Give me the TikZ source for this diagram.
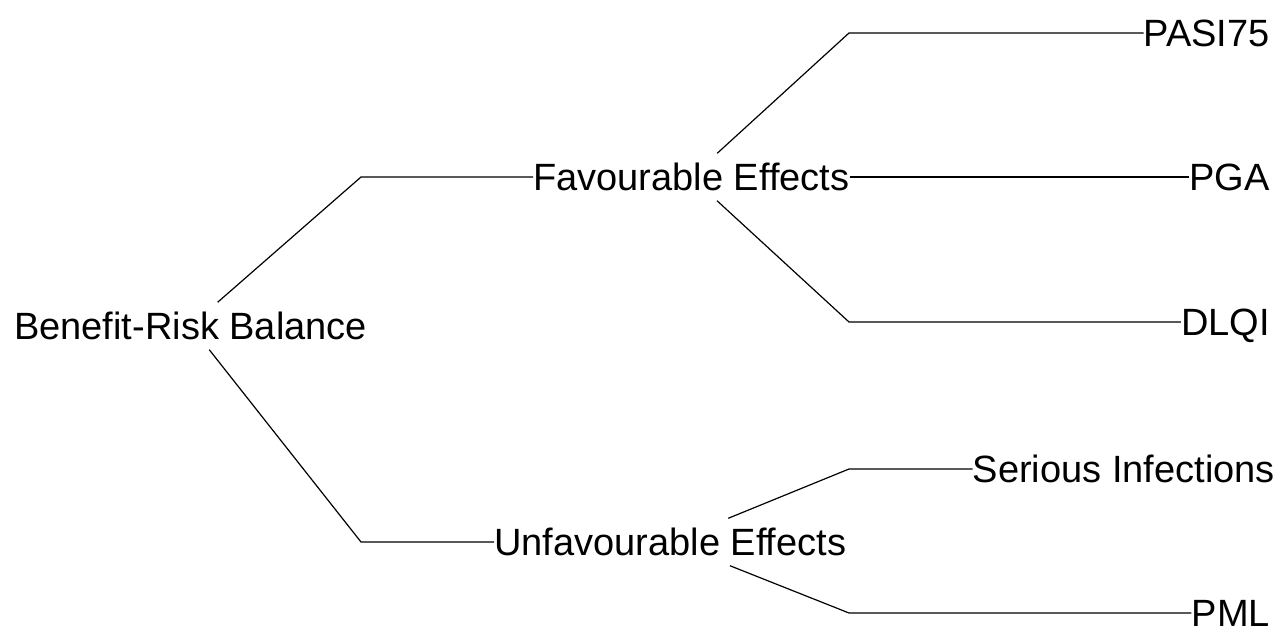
\documentclass[tikz,border=0pt]{standalone}
\usepackage{fontspec}
\setmainfont{Liberation Sans}
\begin{document}
\begin{tikzpicture}[x=1pt,y=-1pt,
  treelabel/.style={font=\fontsize{38}{42}\selectfont, text=black,
    inner xsep=0pt, inner ysep=0pt, text height=27.2pt, text depth=0pt,
    minimum height=47pt},
  link/.style={draw=black, line width=1.2pt}]
\useasboundingbox (0,0) rectangle (1280,628);

% tree nodes
\node[treelabel, anchor=west] (root) at (14,326) {Benefit-Risk Balance};
\node[treelabel, anchor=west] (fav)  at (533,177) {Favourable Effects};
\node[treelabel, anchor=west] (unf)  at (494,542) {Unfavourable Effects};
\node[treelabel, anchor=east] (pasi) at (1270,33)  {PASI75};
\node[treelabel, anchor=east] (pga)  at (1270,177) {PGA};
\node[treelabel, anchor=east] (dlqi) at (1270,322) {DLQI};
\node[treelabel, anchor=east] (ser)  at (1275,469) {Serious Infections};
\node[treelabel, anchor=east] (pml)  at (1270,613) {PML};

% elbow points
\coordinate (bfav)  at (361,177);
\coordinate (bunf)  at (361,542);
\coordinate (bpasi) at (849,33);
\coordinate (bdlqi) at (849,322);
\coordinate (bser)  at (849,469);
\coordinate (bpml)  at (849,613);

% connectors
\draw[link] (root) -- (bfav) -- (fav.west);
\draw[link] (root) -- (bunf) -- (unf.west);
\draw[link] (fav) -- (bpasi) -- (pasi.west);
\draw[link] (fav.east) -- (pga.west);
\draw[link] (fav) -- (bdlqi) -- (dlqi.west);
\draw[link] (unf) -- (bser) -- (ser.west);
\draw[link] (unf) -- (bpml) -- (pml.west);
\end{tikzpicture}
\end{document}
